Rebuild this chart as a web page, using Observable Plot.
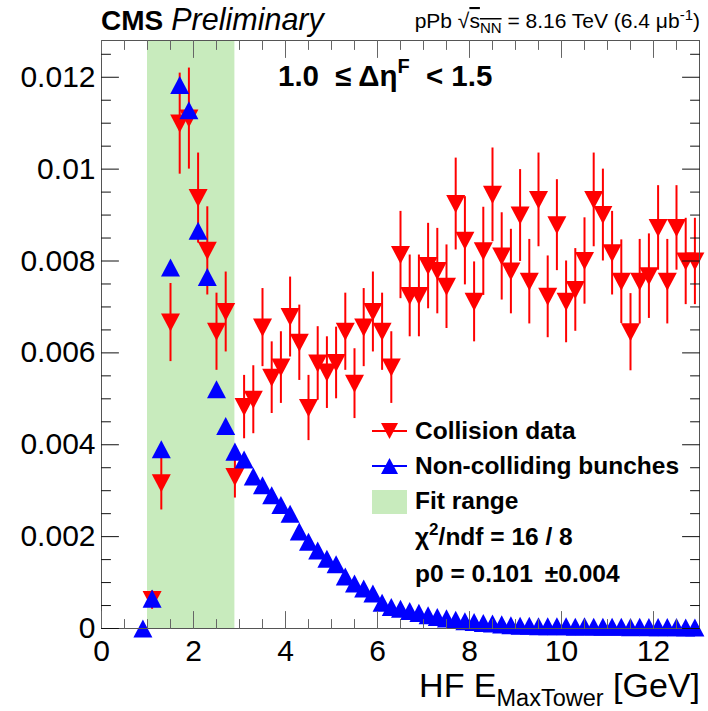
<!DOCTYPE html>
<html><head><meta charset="utf-8">
<script src="https://cdn.jsdelivr.net/npm/d3@7"></script>
<script src="https://cdn.jsdelivr.net/npm/@observablehq/plot@0.6"></script>
<style>
body{margin:0;background:#fff;}
svg{display:block;font-family:"Liberation Sans",Arial,Helvetica,sans-serif;}
</style>
</head><body><div id="chart"></div><script>
// ---- data ----
const binCenters = [0.9,1.1,1.3,1.5,1.7,1.9,2.1,2.3,2.5,2.7,2.9,3.1,3.3,3.5,3.7,3.9,4.1,4.3,4.5,4.7,4.9,
  5.1,5.3,5.5,5.7,5.9,6.1,6.3,6.5,6.7,6.9,7.1,7.3,7.5,7.7,7.9,8.1,8.3,8.5,8.7,8.9,
  9.1,9.3,9.5,9.7,9.9,10.1,10.3,10.5,10.7,10.9,11.1,11.3,11.5,11.7,11.9,12.1,12.3,12.5,12.7,12.9];
const nonColliding = [0,0.00065,0.0039,0.00786,0.01183,0.01128,0.00866,0.00765,0.00521,0.00441,0.00385,
  0.00368,0.00331,0.00312,0.0029,0.00269,0.0025,0.00211,0.00189,0.0017,0.00152,
  0.0014,0.00113,0.00098,0.00087,0.00076,0.00056,0.00047,0.00043,0.00038,0.00034,
  0.00029,0.00025,0.00022,0.00019,0.00016,0.00014,0.00012,0.00011,0.00009,0.00007,
  0.00006,0.00006,0.00005,0.00005,0.00005,0.00005,0.00004,0.00005,0.00004,0.00004,
  0.00004,0.00004,0.00003,0.00004,0.00003,0.00003,0.00003,0.00003,0.00002,0.00002];
// collision data starts at the second bin (1.1)
const collisionX = binCenters.slice(1);
const collision = [0.00062,0.00316,0.00666,0.01099,0.0111,0.00937,0.00822,0.00646,0.00689,0.0033,
  0.00482,0.00498,0.00655,0.00546,0.00568,0.00678,0.00622,0.0048,0.00577,0.00557,
  0.00578,0.00646,0.00533,0.00655,0.00689,0.00646,0.00568,0.00813,0.00724,0.00724,
  0.00789,0.00778,0.00744,0.00924,0.00844,0.00711,0.00821,0.00944,0.0081,0.00777,
  0.00899,0.00755,0.00933,0.00722,0.00878,0.00711,0.00737,0.008,0.00933,0.009,
  0.00817,0.00755,0.00645,0.00755,0.00767,0.00872,0.00755,0.00872,0.00799,0.00799];
const collisionErr = [0.0002,0.00058,0.00085,0.0011,0.0011,0.00098,0.00096,0.00084,0.00087,0.00046,
  0.00069,0.00074,0.00085,0.00078,0.00078,0.00087,0.00082,0.00071,0.0008,0.00078,
  0.00078,0.00084,0.00076,0.00085,0.00087,0.00084,0.00078,0.00095,0.00089,0.00089,
  0.00093,0.00093,0.00091,0.001,0.00096,0.00087,0.00096,0.00102,0.00095,0.00092,
  0.001,0.00092,0.00102,0.00089,0.00099,0.00089,0.0009,0.00094,0.00102,0.001,
  0.00091,0.00091,0.00084,0.00092,0.00092,0.00092,0.00092,0.00092,0.00094,0.00094];
const fitRange = [1.0, 2.9];
const xMajorTicks = [0,2,4,6,8,10,12];
const xMinorTicks = [0.5,1,1.5,2.5,3,3.5,4.5,5,5.5,6.5,7,7.5,8.5,9,9.5,10.5,11,11.5,12.5];
const yMajorTicks = [0,0.002,0.004,0.006,0.008,0.01,0.012];
const yMinorTicks = [0.0005,0.001,0.0015,0.0025,0.003,0.0035,0.0045,0.005,0.0055,0.0065,0.007,0.0075,0.0085,0.009,0.0095,0.0105,0.011,0.0115,0.0125];
const yTickLabels = ["0","0.002","0.004","0.006","0.008","0.01","0.012"];

const blueRows = binCenters.map((x,i)=>({x, y: nonColliding[i]}));
const redRows = collisionX.map((x,i)=>({x, y: collision[i], e: collisionErr[i]}));

// ---- symbols ----
const triUp = {draw(ctx,size){const r=Math.sqrt(size/Math.PI);const hw=r,hh=r*0.95;ctx.moveTo(0,-hh);ctx.lineTo(hw,hh);ctx.lineTo(-hw,hh);ctx.closePath();}};
const triDown = {draw(ctx,size){const r=Math.sqrt(size/Math.PI);const hw=r,hh=r*0.95;ctx.moveTo(0,hh);ctx.lineTo(hw,-hh);ctx.lineTo(-hw,-hh);ctx.closePath();}};
const tickShape = {draw(ctx,l){ctx.moveTo(0,0);ctx.lineTo(0,-l);}};

const RED="#ff0000", BLUE="#0000ff", GREEN="#c8ebbd";
const majorLen=17, minorLen=9;

const tickMarks = (vals, len, color) => [
  Plot.vector(vals,{x:d=>d, frameAnchor:"bottom", length:len, rotate:0, anchor:"start", shape:tickShape, stroke:color, strokeWidth:1}),
  Plot.vector(vals,{x:d=>d, frameAnchor:"top", length:len, rotate:180, anchor:"start", shape:tickShape, stroke:color, strokeWidth:1})
];
const tickMarksY = (vals, len, color) => [
  Plot.vector(vals,{y:d=>d, frameAnchor:"left", length:len, rotate:90, anchor:"start", shape:tickShape, stroke:color, strokeWidth:1}),
  Plot.vector(vals,{y:d=>d, frameAnchor:"right", length:len, rotate:-90, anchor:"start", shape:tickShape, stroke:color, strokeWidth:1})
];

const chart = Plot.plot({
  width:708, height:711,
  marginLeft:101, marginRight:9, marginTop:40, marginBottom:83,
  style:{fontFamily:"'Liberation Sans',Arial,sans-serif", background:"#fff", overflow:"visible"},
  x:{domain:[0,13]},
  y:{domain:[0,0.0128]},
  marks:[
    Plot.rectY([fitRange],{x1:d=>d[0], x2:d=>d[1], y1:0, y2:0.0128, fill:GREEN}),
    Plot.ruleX(redRows,{x:"x", y1:d=>d.y-d.e, y2:d=>d.y+d.e, stroke:RED, strokeWidth:2}),
    Plot.dot(redRows,{x:"x", y:"y", symbol:triDown, r:9.5, fill:RED, stroke:null}),
    Plot.dot(blueRows,{x:"x", y:"y", symbol:triUp, r:9.5, fill:BLUE, stroke:null}),
    Plot.frame({stroke:"#555"}),
    ...tickMarks(xMajorTicks, majorLen, "#666"),
    ...tickMarks(xMinorTicks, minorLen, "#666"),
    ...tickMarksY(yMajorTicks, majorLen, "#111"),
    ...tickMarksY(yMinorTicks, minorLen, "#111"),
    Plot.axisX({ticks:xMajorTicks, tickSize:0, tickPadding:11, label:null, fontSize:30, tickFormat:d=>String(d)}),
    Plot.axisY({ticks:yMajorTicks, tickSize:0, tickPadding:6, label:null, fontSize:30, tickFormat:(d)=>yTickLabels[yMajorTicks.indexOf(d)]})
  ]
});
document.getElementById("chart").appendChild(chart);

// ---- annotations ----
const svg = d3.select(chart);
const g = svg.append("g").attr("fill","#000").attr("text-anchor","start")
  .attr("font-family","'Liberation Sans',Arial,sans-serif");
// CMS Preliminary
const t1 = g.append("text").attr("x",101).attr("y",30).attr("text-anchor","start");
t1.append("tspan").attr("font-weight","bold").attr("font-size",28).text("CMS");
t1.append("tspan").attr("font-style","italic").attr("font-size",30.5).attr("dx",8).text("Preliminary");
// energy header
const t2 = g.append("text").attr("x",700).attr("y",28).attr("text-anchor","end").attr("font-size",21);
t2.append("tspan").text("pPb ");
t2.append("tspan").text("\u221A");
t2.append("tspan").attr("text-decoration","overline").text("s");
t2.append("tspan").attr("font-size",15).attr("dy",5).attr("text-decoration","overline").text("NN");
t2.append("tspan").attr("dy",-5).text(" = 8.16 TeV (6.4 \u03BCb");
t2.append("tspan").attr("font-size",15).attr("dy",-8).text("-1");
t2.append("tspan").attr("dy",8).text(")");
// panel label
const t3 = g.append("text").attr("x",278).attr("y",86).attr("text-anchor","start").attr("font-weight","bold").attr("font-size",29.5);
t3.append("tspan").text("1.0");
t3.append("tspan").attr("dx",16).text("\u2264 \u0394\u03B7");
t3.append("tspan").attr("font-size",20).attr("dy",-13).text("F");
t3.append("tspan").attr("dy",13).attr("dx",8).text(" < 1.5");
// x title
const t4 = g.append("text").attr("x",700).attr("y",697).attr("text-anchor","end").attr("font-size",34);
t4.append("tspan").text("HF E");
t4.append("tspan").attr("font-size",23.5).attr("dy",9).text("MaxTower");
t4.append("tspan").attr("dy",-9).text(" [GeV]");
// legend
const L = g.append("g");
const lx0=372, lx1=407, lxc=389.5;
L.append("line").attr("x1",lx0).attr("x2",lx1).attr("y1",431).attr("y2",431).attr("stroke",RED).attr("stroke-width",2);
L.append("path").attr("d",d3.symbol(triDown, Math.PI*8.5*8.5)()).attr("transform",`translate(${lxc},431)`).attr("fill",RED);
L.append("line").attr("x1",lx0).attr("x2",lx1).attr("y1",466).attr("y2",466).attr("stroke",BLUE).attr("stroke-width",2);
L.append("path").attr("d",d3.symbol(triUp, Math.PI*8.5*8.5)()).attr("transform",`translate(${lxc},466)`).attr("fill",BLUE);
L.append("rect").attr("x",372).attr("y",490).attr("width",35).attr("height",24).attr("fill",GREEN);
const lt = (y, parts) => { const t = L.append("text").attr("x",415).attr("y",y).attr("text-anchor","start").attr("font-weight","bold").attr("font-size",24.5); parts(t); };
lt(439, t=>t.text("Collision data"));
lt(474, t=>t.text("Non-colliding bunches"));
lt(509, t=>t.text("Fit range"));
lt(545, t=>{t.append("tspan").text("\u03C7"); t.append("tspan").attr("font-size",17).attr("dy",-10).text("2"); t.append("tspan").attr("dy",10).text("/ndf = 16 / 8");});
lt(582, t=>{t.append("tspan").text("p0 = 0.101"); t.append("tspan").attr("dx",12).text("\u00B10.004");});
</script></body></html>
